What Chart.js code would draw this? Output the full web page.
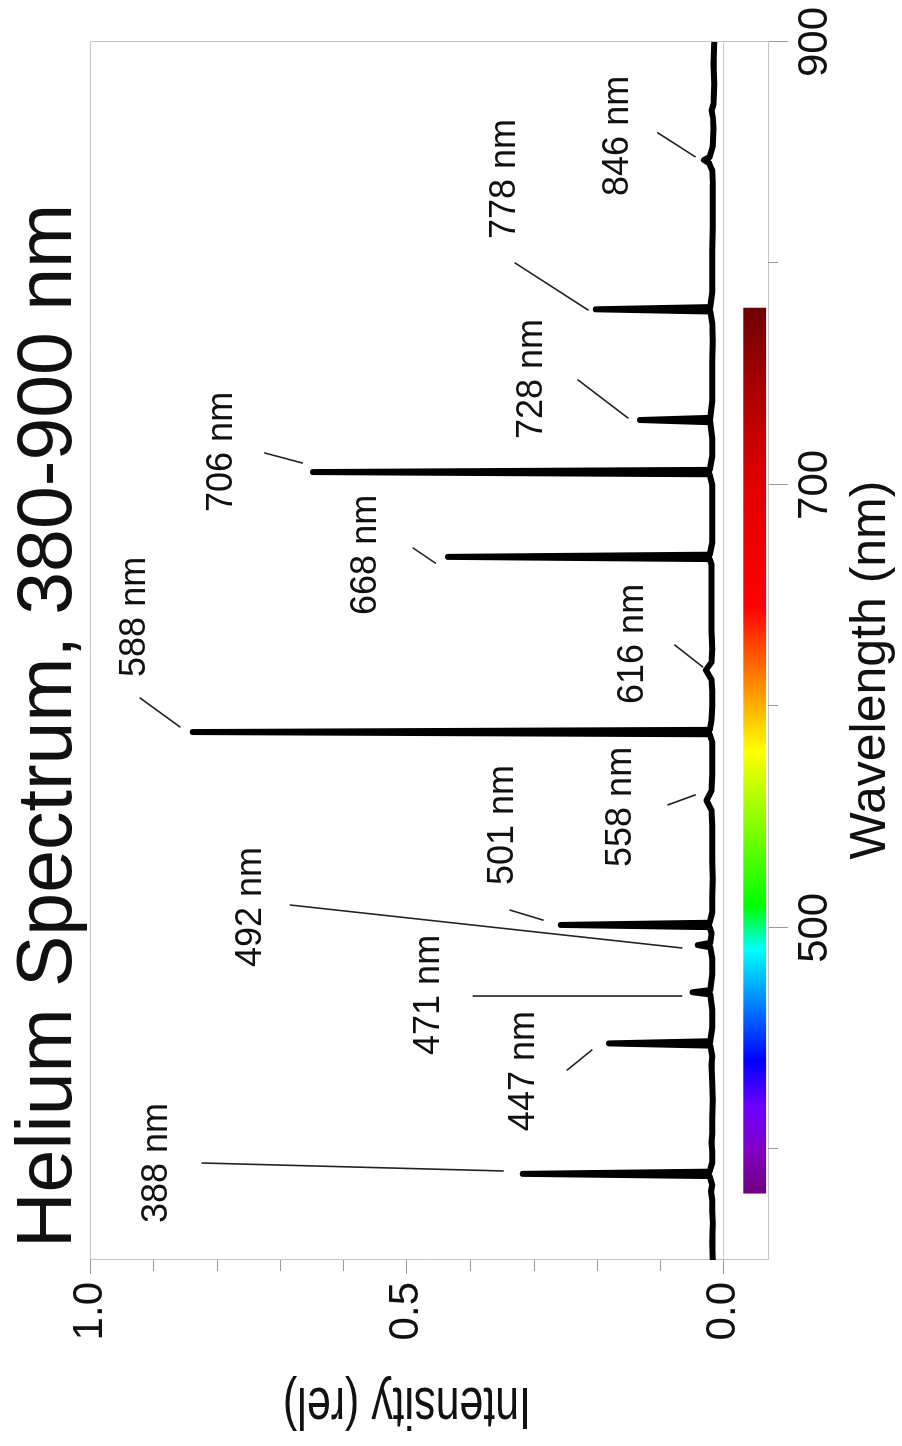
<!DOCTYPE html>
<html><head><meta charset="utf-8">
<script src="https://cdn.jsdelivr.net/npm/chart.js@4.4.0/dist/chart.umd.min.js"></script>
<style>
html,body{margin:0;padding:0;background:#fff;overflow:hidden;width:902px;height:1446px;}
#wrap{position:absolute;left:0;top:0;width:1446px;height:902px;transform-origin:0 0;transform:translateY(1446px) rotate(-90deg);}
canvas{display:block;}
</style></head><body>
<div id="wrap"><canvas id="c" width="1446" height="902"></canvas></div>
<script>
const titleText = 'Helium Spectrum, 380-900 nm';
const xTitle = 'Wavelength (nm)';
const yTitle = 'Intensity (rel)';

const wavelengthNm = [350,358,366,372,377,381,384,387.9,388.9,389.9,394,399,403,407,414,422,430,438,442,446.8,447.8,448.8,455,463,469.9,470.9,471.9,479,486,491.2,492.2,493.2,497.5,500.3,501.3,502.3,507,514,522,530,538,546,553,557.5,562,569,577,584,587.4,588.4,589.4,594,600,607,612,616.4,620,626,634,642,650,658,664,666.5,667.5,668.5,674,683,692,700,704.8,705.8,706.8,713,721,728.3,729.3,730.3,738,747,756,765,773,778.3,779.3,780.3,787,796,806,816,826,836,842,845.3,846.7,848.1,853,861,866,869,872,881,890,900];
const intensityRel = [0.017,0.018,0.017,0.018,0.018,0.020,0.018,0.022,0.317,0.022,0.018,0.018,0.019,0.018,0.018,0.017,0.018,0.019,0.018,0.021,0.181,0.021,0.018,0.018,0.021,0.049,0.021,0.018,0.018,0.021,0.041,0.021,0.019,0.022,0.257,0.022,0.018,0.018,0.017,0.018,0.018,0.018,0.019,0.027,0.019,0.018,0.018,0.018,0.022,0.838,0.022,0.019,0.018,0.018,0.019,0.028,0.019,0.018,0.019,0.019,0.019,0.019,0.019,0.022,0.435,0.022,0.018,0.018,0.018,0.018,0.022,0.648,0.022,0.018,0.018,0.021,0.132,0.021,0.018,0.018,0.018,0.017,0.018,0.021,0.202,0.021,0.018,0.018,0.018,0.017,0.017,0.017,0.018,0.023,0.031,0.022,0.017,0.016,0.017,0.019,0.016,0.015,0.016,0.015];

const xTickValues = [400,500,600,700,800,900];
const xLabelledTicks = [500,700,900];
const yTickValues = [0,0.1,0.2,0.3,0.4,0.5,0.6,0.7,0.8,0.9,1.0];
const yLabelledTicks = [0,0.5,1.0];

const lineLabels = ['388 nm','447 nm','471 nm','492 nm','501 nm','558 nm','588 nm','616 nm','668 nm','706 nm','728 nm','778 nm','846 nm'];
// [wavelength, intensity] of each label centre
const lineLabelAt = [[393.8,0.894],[435.3,0.315],[469.7,0.465],[509.4,0.746],[546.4,0.348],[554.6,0.162],[640.4,0.929],[628.2,0.143],[668.4,0.564],[714.9,0.792],[747.8,0.302],[838.1,0.345],[857.6,0.167]];
const leaderFrom = [[393.8,0.823],[435.8,0.247],[469.2,0.395],[510.3,0.684],[508.0,0.337],[555.5,0.088],[603.8,0.921],[627.7,0.077],[671.5,0.490],[714.4,0.724],[747.4,0.230],[800.2,0.329],[859.0,0.104]];
const leaderTo = [[390.2,0.348],[444.8,0.208],[469.2,0.066],[490.9,0.066],[503.5,0.285],[560.0,0.045],[590.7,0.858],[617.8,0.033],[664.7,0.455],[709.9,0.665],[730.2,0.151],[779.0,0.214],[848.2,0.045]];

const colorBarNm = [380,780];
const colorBarIntensity = [-0.031,-0.067];
const spectrumStopNm = [380,400,420,440,490,510,580,645,700,740,780];
const spectrumStopColor = ['rgb(112,0,125)','rgb(130,0,200)','rgb(106,0,255)','rgb(0,0,255)','rgb(0,255,255)','rgb(0,255,0)','rgb(255,255,0)','rgb(255,0,0)','rgb(225,0,0)','rgb(175,0,0)','rgb(110,0,0)'];

const FONT = "'Liberation Sans', Arial, Helvetica, sans-serif";
const isMajorX = v => xLabelledTicks.some(t => Math.abs(t - v) < 1e-9);
const isMajorY = v => yLabelledTicks.some(t => Math.abs(t - v) < 1e-9);
const pts = wavelengthNm.map((w, i) => ({x: w, y: intensityRel[i]}));

const decor = {
  id: 'decor',
  beforeDatasetsDraw(chart) {
    const {ctx, chartArea: a, scales: {x, y}} = chart;
    const x0 = x.getPixelForValue(colorBarNm[0]), x1 = x.getPixelForValue(colorBarNm[1]);
    const y0 = y.getPixelForValue(colorBarIntensity[0]), y1 = y.getPixelForValue(colorBarIntensity[1]);
    const g = ctx.createLinearGradient(x0, 0, x1, 0);
    spectrumStopNm.forEach((w, i) => g.addColorStop((w - colorBarNm[0]) / (colorBarNm[1] - colorBarNm[0]), spectrumStopColor[i]));
    ctx.save();
    ctx.fillStyle = g;
    ctx.fillRect(x0, y0, x1 - x0, y1 - y0);
    ctx.strokeStyle = '#c4c4c4'; ctx.lineWidth = 1;
    ctx.beginPath();
    ctx.moveTo(a.left, Math.round(a.top) + 0.5);
    ctx.lineTo(Math.round(a.right) + 0.5, Math.round(a.top) + 0.5);
    ctx.lineTo(Math.round(a.right) + 0.5, a.bottom);
    ctx.stroke();
    ctx.restore();
  },
  afterDraw(chart) {
    const {ctx, chartArea: a, scales: {x, y}} = chart;
    ctx.save();
    ctx.strokeStyle = '#999'; ctx.lineWidth = 1;
    xTickValues.filter(v => !isMajorX(v)).forEach(v => {
      const px = Math.round(x.getPixelForValue(v)) + 0.5;
      ctx.beginPath(); ctx.moveTo(px, a.bottom); ctx.lineTo(px, a.bottom + 10); ctx.stroke();
    });
    yTickValues.filter(v => !isMajorY(v)).forEach(v => {
      const py = Math.round(y.getPixelForValue(v)) + 0.5;
      ctx.beginPath(); ctx.moveTo(a.left, py); ctx.lineTo(a.left - 11, py); ctx.stroke();
    });
    ctx.strokeStyle = '#222'; ctx.lineWidth = 1.6; ctx.lineCap = 'round';
    leaderFrom.forEach((p, i) => {
      const q = leaderTo[i];
      ctx.beginPath();
      ctx.moveTo(x.getPixelForValue(p[0]), y.getPixelForValue(p[1]));
      ctx.lineTo(x.getPixelForValue(q[0]), y.getPixelForValue(q[1]));
      ctx.stroke();
    });
    ctx.fillStyle = '#111';
    ctx.font = '36px ' + FONT;
    ctx.textAlign = 'center'; ctx.textBaseline = 'middle';
    lineLabels.forEach((t, i) => {
      ctx.fillText(t, x.getPixelForValue(lineLabelAt[i][0]), y.getPixelForValue(lineLabelAt[i][1]));
    });
    ctx.textBaseline = 'alphabetic'; ctx.textAlign = 'left';
    ctx.font = '77px ' + FONT;
    ctx.fillText(titleText, 198, 71);
    ctx.textAlign = 'center';
    ctx.font = '50px ' + FONT;
    ctx.fillText(xTitle, 776, 885);
    ctx.save();
    ctx.translate(58, 407);
    ctx.rotate(-Math.PI / 2);
    ctx.scale(0.715, 1);
    ctx.font = '60px ' + FONT;
    ctx.fillText(yTitle, 0, 0);
    ctx.restore();
    ctx.restore();
  }
};

new Chart(document.getElementById('c'), {
  type: 'scatter',
  data: {datasets: [{
    data: pts, showLine: true, borderColor: '#000', backgroundColor: '#000',
    borderWidth: 6, pointRadius: 0, pointHoverRadius: 0,
    borderJoinStyle: 'round', borderCapStyle: 'round', tension: 0, fill: false
  }]},
  options: {
    responsive: false, animation: false, devicePixelRatio: 1,
    layout: {padding: {top: 90, right: 42, bottom: 0, left: 0}},
    plugins: {legend: {display: false}, tooltip: {enabled: false}, title: {display: false}},
    scales: {
      x: {
        type: 'linear', min: 350, max: 900,
        afterBuildTicks: s => { s.ticks = xTickValues.map(v => ({value: v})); },
        afterFit: s => { s.height = 134; },
        ticks: {autoSkip: false, maxRotation: 0, minRotation: 0, padding: 2, color: '#111',
          font: {family: FONT, size: 42},
          callback: v => isMajorX(v) ? String(v) : ''},
        grid: {drawOnChartArea: false, tickLength: 20, tickWidth: 1,
          tickColor: c => (c.tick && isMajorX(c.tick.value)) ? '#999' : 'rgba(0,0,0,0)'},
        border: {display: true, color: '#c4c4c4', width: 1}
      },
      y: {
        type: 'linear', min: -0.07, max: 1.0,
        afterBuildTicks: s => { s.ticks = yTickValues.map(v => ({value: v})); },
        afterFit: s => { s.width = 186; },
        ticks: {padding: 8, color: '#111', font: {family: FONT, size: 42},
          callback: v => isMajorY(v) ? v.toFixed(1) : ''},
        grid: {drawOnChartArea: true, tickLength: 14, tickWidth: 1,
          color: c => (c.tick && Math.abs(c.tick.value) < 1e-9) ? '#c8c8c8' : 'rgba(0,0,0,0)',
          tickColor: c => (c.tick && isMajorY(c.tick.value)) ? '#999' : 'rgba(0,0,0,0)'},
        border: {display: true, color: '#c4c4c4', width: 1}
      }
    }
  },
  plugins: [decor]
});
</script>
</body></html>
